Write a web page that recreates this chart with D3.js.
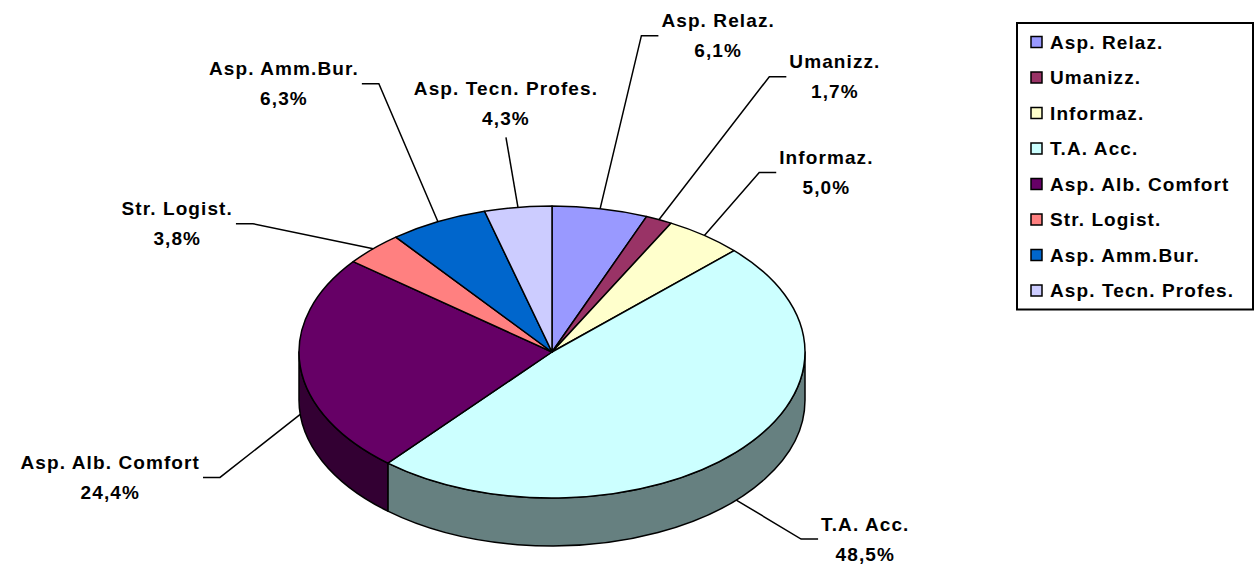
<!DOCTYPE html>
<html>
<head>
<meta charset="utf-8">
<script src="https://cdn.jsdelivr.net/npm/d3@7"></script>
<style>
	body{margin:0;background:#fff;}
	text{font-family:"Liberation Sans",Arial,sans-serif;font-weight:bold;font-size:19px;letter-spacing:1.1px;fill:#000;}
</style>
</head>
<body>
<svg id="chart" width="1254" height="566"></svg>
<script>
// ---------------- data ----------------
var CATEGORIES = ["Asp. Relaz.","Umanizz.","Informaz.","T.A. Acc.","Asp. Alb. Comfort","Str. Logist.","Asp. Amm.Bur.","Asp. Tecn. Profes."];
var VALUES = [6.1,1.7,5.0,48.5,24.4,3.8,6.3,4.3];
var VALUE_LABELS = ["6,1%","1,7%","5,0%","48,5%","24,4%","3,8%","6,3%","4,3%"];
var COLORS = ["#9999FF","#993366","#FFFFCC","#CCFFFF","#660066","#FF8080","#0066CC","#CCCCFF"];

// ---------------- layout ----------------
var CX = 552, CY = 352, RX = 253, RY = 146, DEPTH = 48;
var LINE_GAP = 30;
// label centre, relative to the leader anchor on the pie
var LABEL_OFFSETS = [[118,-173],[176,-143],[122,-63],[129,39],[-190,63],[-196,-25],[-154,-138],[-12,-104]];
var LEGEND_X = 1017, LEGEND_Y = 23, LEGEND_W = 236, LEGEND_ROW = 35.5, LEGEND_PAD = 19;

var svg = d3.select("#chart");

var pie = d3.pie().sort(null).value(function(d){return d.value;});
var data = CATEGORIES.map(function(c,i){return {name:c,value:VALUES[i],label:VALUE_LABELS[i],color:COLORS[i]};});
var arcs = pie(data);

// ellipse point, angle clockwise from 12 o'clock
function pt(a,dy){
	return [CX+RX*Math.sin(a), CY-RY*Math.cos(a)+(dy||0)];
}

function topPath(a0,a1){
	var p0 = pt(a0), p1 = pt(a1);
	var large = (a1-a0)>Math.PI ? 1 : 0;
	return "M"+CX+","+CY+"L"+p0+"A"+RX+","+RY+" 0 "+large+" 1 "+p1+"Z";
}

function sidePath(a0,a1){
	var p0 = pt(a0), p1 = pt(a1), q1 = pt(a1,DEPTH), q0 = pt(a0,DEPTH);
	return "M"+p0+"A"+RX+","+RY+" 0 0 1 "+p1+"L"+q1+"A"+RX+","+RY+" 0 0 0 "+q0+"Z";
}

function darker(c){
	var r = d3.rgb(c);
	return d3.rgb(r.r/2,r.g/2,r.b/2).toString();
}

//---------------- sides (only front half visible) --------------------
var gSide = svg.append("g").attr("id","sides");
arcs.forEach(function(d){
	var a0 = Math.max(d.startAngle,Math.PI/2), a1 = Math.min(d.endAngle,Math.PI*3/2);
	if (a1<=a0) return;
	gSide.append("path")
		.attr("d",sidePath(a0,a1))
		.attr("fill",darker(d.data.color))
		.attr("stroke","#000")
		.attr("stroke-width",1.5)
		.attr("stroke-linejoin","round");
});

//---------------- top face --------------------
var gTop = svg.append("g").attr("id","tops");
arcs.forEach(function(d){
	gTop.append("path")
		.attr("d",topPath(d.startAngle,d.endAngle))
		.attr("fill",d.data.color)
		.attr("stroke","#000")
		.attr("stroke-width",1.5)
		.attr("stroke-linejoin","round");
});

//---------------- labels + leaders --------------------
var gLab = svg.append("g").attr("id","labels");
arcs.forEach(function(d,i){
	var mid = (d.startAngle+d.endAngle)/2;
	var front = mid>Math.PI/2 && mid<Math.PI*3/2;
	var anchor = pt(mid,front?DEPTH:0);
	var lx = anchor[0]+LABEL_OFFSETS[i][0], ly = anchor[1]+LABEL_OFFSETS[i][1];

	var t = gLab.append("text").attr("text-anchor","middle");
	t.append("tspan").attr("x",lx).attr("y",ly-LINE_GAP/2).attr("dy","0.35em").text(d.data.name);
	t.append("tspan").attr("x",lx).attr("y",ly+LINE_GAP/2).attr("dy","0.35em").text(d.data.label);
	var w = d3.max(t.selectAll("tspan").nodes(),function(n){return n.getComputedTextLength();});

	var pts;
	if (Math.abs(LABEL_OFFSETS[i][0])<40){
		pts = [anchor,[lx,ly+LINE_GAP/2+19]];
	} else {
		var side = LABEL_OFFSETS[i][0]>0 ? -1 : 1;
		var ex = lx+side*(w/2+3);
		pts = [anchor,[ex+side*17,ly],[ex,ly]];
	}
	gLab.append("path")
		.attr("d",d3.line()(pts))
		.attr("fill","none")
		.attr("stroke","#000")
		.attr("stroke-width",1.5);
});

//---------------- legend --------------------
var gLeg = svg.append("g").attr("id","legend");
gLeg.append("rect")
	.attr("x",LEGEND_X).attr("y",LEGEND_Y)
	.attr("width",LEGEND_W).attr("height",LEGEND_PAD*2+LEGEND_ROW*(CATEGORIES.length-1))
	.attr("fill","#fff").attr("stroke","#000").attr("stroke-width",2);

var legY = d3.scalePoint().domain(CATEGORIES).range([LEGEND_Y+LEGEND_PAD, LEGEND_Y+LEGEND_PAD+LEGEND_ROW*(CATEGORIES.length-1)]);
data.forEach(function(d){
	var y = legY(d.name);
	gLeg.append("rect")
		.attr("x",LEGEND_X+14).attr("y",y-5.5)
		.attr("width",11).attr("height",11)
		.attr("fill",d.color).attr("stroke","#000").attr("stroke-width",1.5);
	gLeg.append("text")
		.attr("x",LEGEND_X+33).attr("y",y).attr("dy","0.35em")
		.text(d.name);
});
</script>
</body>
</html>
